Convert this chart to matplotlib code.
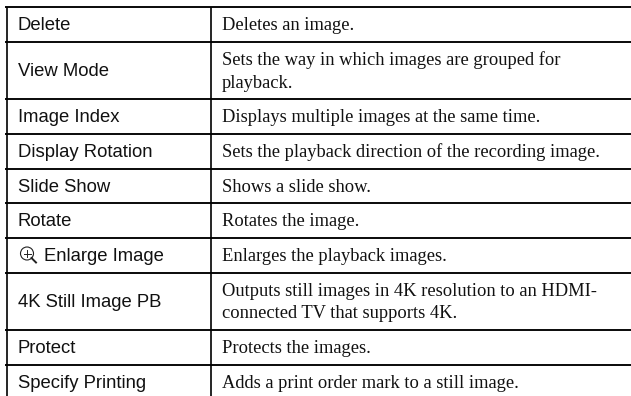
from matplotlib import pyplot as plt
from matplotlib.patches import Circle

left_labels = ['Delete', 'View Mode', 'Image Index', 'Display Rotation', 'Slide Show',
               'Rotate', 'Enlarge Image', '4K Still Image PB', 'Protect', 'Specify Printing']
right_labels = ['Deletes an image.',
                'Sets the way in which images are grouped for\nplayback.',
                'Displays multiple images at the same time.',
                'Sets the playback direction of the recording image.',
                'Shows a slide show.',
                'Rotates the image.',
                'Enlarges the playback images.',
                'Outputs still images in 4K resolution to an HDMI-\nconnected TV that supports 4K.',
                'Protects the images.',
                'Adds a print order mark to a still image.']
# last row runs off the bottom of the picture
row_lines = [7, 42, 99, 134, 169, 203, 238, 273, 330, 365, 400]
col_lines = [6.5, 211, 631]

fig = plt.figure(figsize=(6.31, 3.96), dpi=100)
ax = fig.add_axes([0, 0, 1, 1])
ax.set_xlim(0, 631)
ax.set_ylim(396, 0)
ax.axis('off')

# table rules
for y in row_lines:
    ax.plot([5, col_lines[-1]], [y, y], color='black', lw=1.35, solid_capstyle='butt')
for x in col_lines[:2]:
    ax.plot([x, x], [row_lines[0], row_lines[-1]], color='black', lw=1.2, solid_capstyle='butt')

for i in range(len(left_labels)):
    mid = (row_lines[i] + row_lines[i + 1]) / 2
    x = 17.5
    if left_labels[i] == 'Enlarge Image':
        x = 44
        # magnifier icon in front of the label
        ax.add_patch(Circle((27, mid - 2), 6.5, fill=False, ec='#222222', lw=0.8))
        ax.plot([31.5, 36], [mid + 2.5, mid + 7], color='#222222', lw=1.4)
        ax.plot([23.5, 30.5], [mid - 2, mid - 2], color='#222222', lw=0.7)
        ax.plot([27, 27], [mid - 5.5, mid + 1.5], color='#222222', lw=0.7)
    ax.text(x, mid - 1, left_labels[i], family='Liberation Sans', fontsize=13.3,
            ha='left', va='center_baseline', color='#111111')
    ax.text(221.5, mid + 1, right_labels[i], family='Liberation Serif', fontsize=13.3,
            ha='left', va='center', color='#111111', linespacing=1.4)

plt.savefig('out.png', dpi=100)
